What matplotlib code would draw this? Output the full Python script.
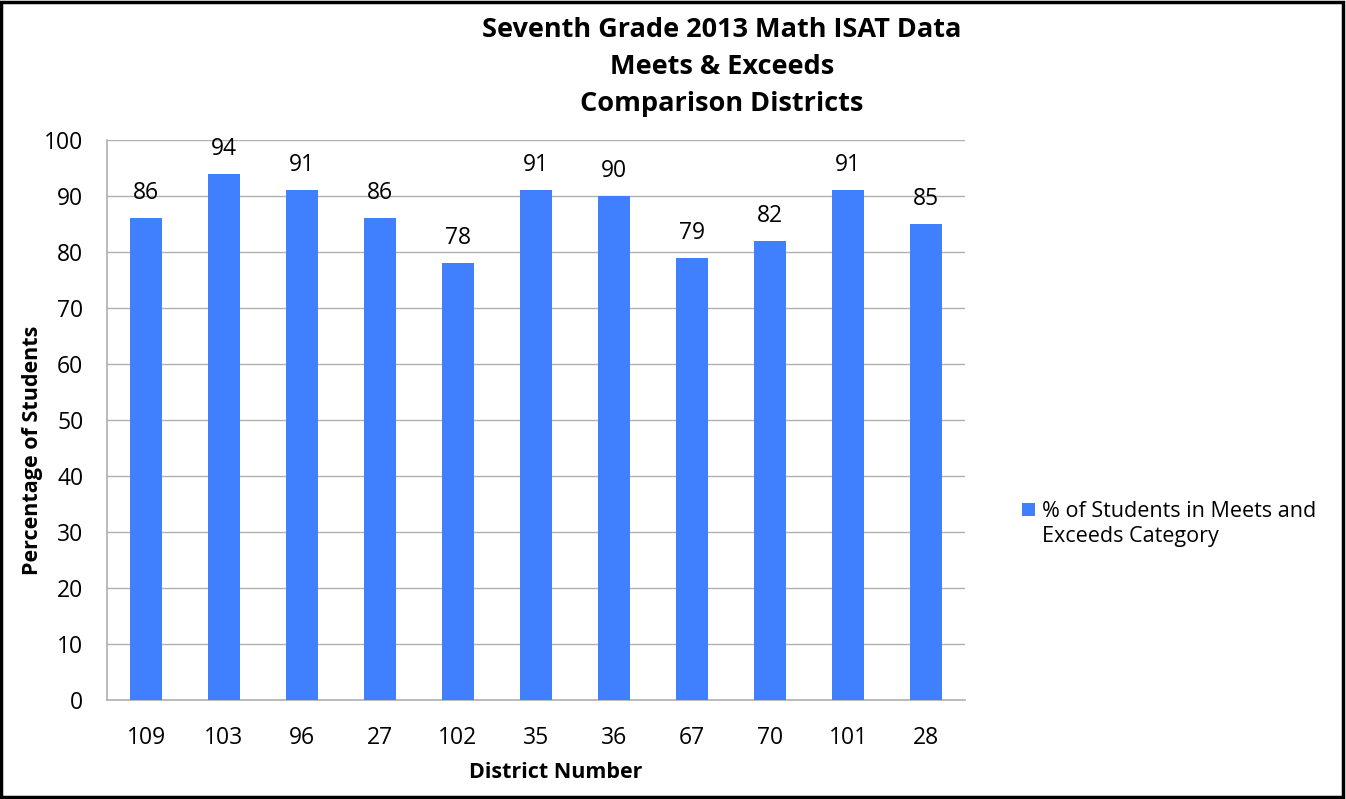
import matplotlib
matplotlib.use("Agg")
import matplotlib.pyplot as plt
from matplotlib.patches import Rectangle

plt.rcParams['font.family'] = ['Open Sans', 'DejaVu Sans']

districts = ["109", "103", "96", "27", "102", "35", "36", "67", "70", "101", "28"]
values = [86, 94, 91, 86, 78, 91, 90, 79, 82, 91, 85]
series_name = "% of Students in Meets and\nExceeds Category"

W, H = 1346, 799
fig = plt.figure(figsize=(W / 100, H / 100), dpi=100)
ax = fig.add_axes([107 / W, 1 - 700 / H, (965 - 107) / W, (700 - 140) / H])

bar_color = "#4080FF"
x = range(len(districts))
bars = ax.bar(x, values, width=0.4, color=bar_color, zorder=3, label=series_name)
for xi, v in zip(x, values):
    ax.text(xi, v + 3.4, str(v), ha="center", va="baseline", fontsize=16.5, color="#000000")

ax.set_xlim(-0.5, len(districts) - 0.5)
ax.set_ylim(0, 100)
ax.set_yticks(range(0, 101, 10))
ax.set_xticks(list(x))
ax.set_xticklabels(districts)
ax.tick_params(axis="both", length=0, labelsize=16.5)
ax.tick_params(axis="x", pad=19)
ax.tick_params(axis="y", pad=17)
ax.grid(axis="y", color="#B0B0B0", linewidth=1, zorder=0)
for side in ["top", "right"]:
    ax.spines[side].set_visible(False)
for side in ["left", "bottom"]:
    ax.spines[side].set_color("#B0B0B0")
    ax.spines[side].set_linewidth(1.2)

fig.text(33 / W, 1 - 450 / H, "Percentage of Students", rotation=90, ha="center", va="center",
         fontsize=15.5, fontweight="bold")
fig.text(556 / W, 1 - 773 / H, "District Number", ha="center", va="center",
         fontsize=15.5, fontweight="bold")
fig.text(722 / W, 1 - 67 / H, "Seventh Grade 2013 Math ISAT Data\nMeets & Exceeds\nComparison Districts",
         ha="center", va="center", fontsize=19.5, fontweight="bold", linespacing=1.55)

# legend
fig.patches.append(Rectangle((1022 / W, 1 - 516 / H), 13 / W, 13 / H, transform=fig.transFigure,
                             facecolor=bar_color, edgecolor="none"))
fig.text(1042 / W, 1 - 524 / H, series_name, ha="left", va="center", fontsize=15.5, linespacing=1.3)

# figure border
fig.patches.append(Rectangle((0.001, 0.002), 0.997, 0.996, transform=fig.transFigure,
                             fill=False, edgecolor="black", linewidth=2.5))

fig.savefig("out.png", dpi=100)
